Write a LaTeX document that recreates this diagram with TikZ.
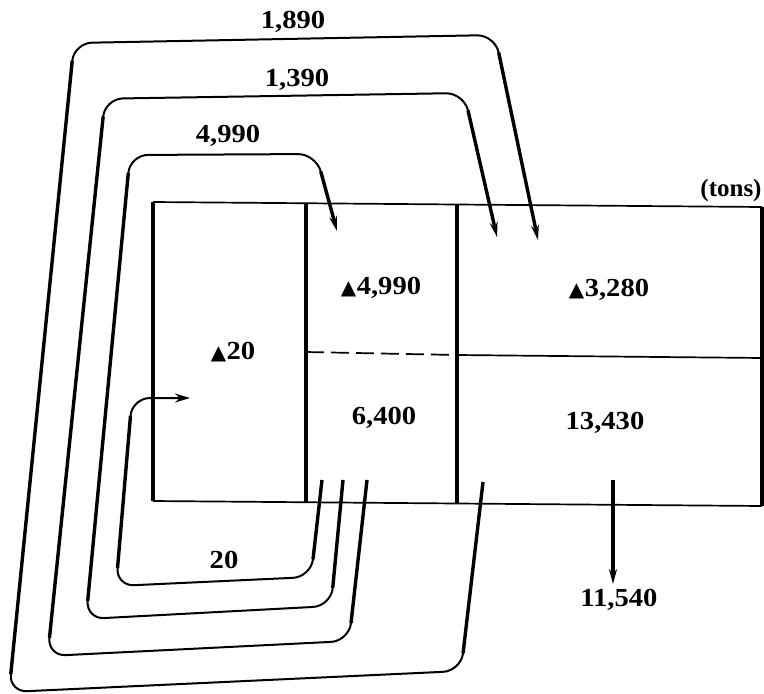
\documentclass[tikz,border=0pt]{standalone}
\usepackage{fontspec}
\setmainfont{Liberation Serif}
\newfontfamily\numfont[FakeStretch=1.1]{Liberation Serif}
\newfontfamily\symfont{DejaVu Sans}
\usetikzlibrary{arrows.meta,calc}
\newcommand{\mytri}{{\symfont\fontsize{20}{20}\selectfont ▲}\kern0.5pt}
\tikzset{
  lbl/.style={font=\numfont\fontsize{26}{28}\selectfont\bfseries, inner sep=0pt},
  wlbl/.style={font=\fontsize{25}{27}\selectfont\bfseries, inner sep=0pt},
  loopthin/.style={line width=2pt, rounded corners=18pt},
  loopthick/.style={line width=3.4pt},
  boxthick/.style={line width=3.4pt},
  boxthin/.style={line width=1.7pt},
  tip/.style={-{Stealth[length=15pt,width=8pt]}},
  smalltip/.style={-{Stealth[length=15pt,width=9pt]}}
}
\begin{document}
\begin{tikzpicture}[x=1pt,y=-1pt]
\useasboundingbox (0,0) rectangle (764,694);
% ---- table ----
\coordinate (TL) at (153,202);
\coordinate (TR) at (762,207);
\coordinate (BL) at (153,501);
\coordinate (BR) at (762,506);
\coordinate (T2) at (306,204);
\coordinate (B2) at (306,502);
\coordinate (T3) at (457,205);
\coordinate (B3) at (457,504);
\coordinate (M2) at (306,352);
\coordinate (M3) at (457,355);
\coordinate (M4) at (762,358);
\draw[boxthin] (TL) -- (TR);
\draw[boxthin] (BL) -- (BR);
\draw[boxthick] (TL) -- (BL);
\draw[boxthick] (T2) -- (B2);
\draw[boxthick] (T3) -- (B3);
\draw[boxthick] (TR) -- (BR);
\draw[boxthin, dash pattern=on 18pt off 7pt] (M2) -- (M3);
\draw[boxthin] (M3) -- (M4);
% ---- loop A (1,890) ----
\coordinate (SA) at (483,482);
\coordinate (A1) at (461,671);
\coordinate (A2) at (9,692);
\coordinate (A3) at (74,43);
\coordinate (A4) at (495,35);
\coordinate (EA) at (538,240);
\draw[loopthin, tip] (SA) -- (A1) -- (A2) -- (A3) -- (A4) -- (EA);
\draw[loopthick] (SA) -- ($(A1)!18pt!(SA)$);
\draw[loopthick] ($(A2)!18pt!(A3)$) -- ($(A3)!18pt!(A2)$);
\draw[loopthick] ($(A4)!18pt!(EA)$) -- ($(EA)!12pt!(A4)$);
% ---- loop B (1,390) ----
\coordinate (SB) at (367,480);
\coordinate (B1) at (349,641);
\coordinate (B2) at (47.6,656);
\coordinate (B3) at (105,98.7);
\coordinate (B4) at (464,93);
\coordinate (EB) at (497,237);
\draw[loopthin, tip] (SB) -- (B1) -- (B2) -- (B3) -- (B4) -- (EB);
\draw[loopthick] (SB) -- ($(B1)!18pt!(SB)$);
\draw[loopthick] ($(B2)!18pt!(B3)$) -- ($(B3)!18pt!(B2)$);
\draw[loopthick] ($(B4)!18pt!(EB)$) -- ($(EB)!12pt!(B4)$);
% ---- loop C (4,990) ----
\coordinate (SC) at (343,480);
\coordinate (C1) at (331,606);
\coordinate (C2) at (86,619);
\coordinate (C3) at (130,155);
\coordinate (C4) at (316,154);
\coordinate (EC) at (337,231);
\draw[loopthin, tip] (SC) -- (C1) -- (C2) -- (C3) -- (C4) -- (EC);
\draw[loopthick] (SC) -- ($(C1)!18pt!(SC)$);
\draw[loopthick] ($(C2)!18pt!(C3)$) -- ($(C3)!18pt!(C2)$);
\draw[loopthick] ($(C4)!18pt!(EC)$) -- ($(EC)!12pt!(C4)$);
% ---- loop D (20) ----
\coordinate (SD) at (322,480);
\coordinate (D1) at (311,577);
\coordinate (D2) at (116,586);
\coordinate (D3) at (132,398);
\coordinate (ED) at (190,398);
\draw[loopthin, smalltip] (SD) -- (D1) -- (D2) -- (D3) -- (ED);
\draw[loopthick] (SD) -- ($(D1)!18pt!(SD)$);
\draw[loopthick] ($(D2)!18pt!(D3)$) -- ($(D3)!18pt!(D2)$);
% ---- outflow ----
\coordinate (O0) at (613,480);
\coordinate (O1) at (613,584);
\draw[loopthick, tip] (O0) -- (O1);
% ---- labels ----
\node[lbl] (l1890) at (293,22) {1,890};
\node[lbl] (l1390) at (297,80) {1,390};
\node[lbl] (l4990) at (228,136) {4,990};
\node[wlbl] (ltons) at (731,190) {(tons)};
\node[lbl] (c1) at (233,352) {\mytri20};
\node[lbl] (c2a) at (381,288) {\mytri4,990};
\node[lbl] (c3a) at (609,290) {\mytri3,280};
\node[lbl] (c2b) at (384,418) {6,400};
\node[lbl] (c3b) at (605,423) {13,430};
\node[lbl] (l11540) at (619,600) {11,540};
\node[lbl] (l20) at (224,560) {20};
\end{tikzpicture}
\end{document}
